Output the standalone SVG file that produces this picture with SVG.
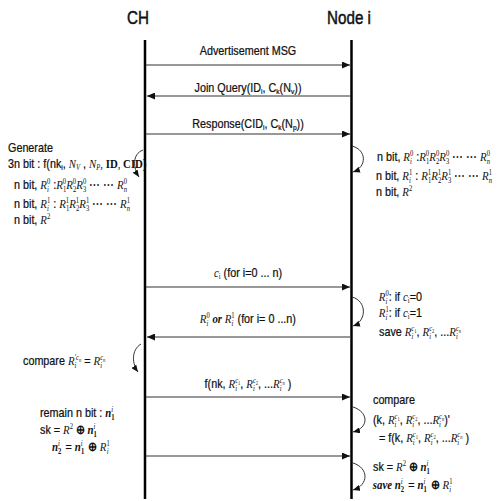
<svg xmlns="http://www.w3.org/2000/svg" width="498" height="501" viewBox="0 0 498 501">
<style>
text{font-family:"Liberation Sans",Arial,sans-serif;font-size:13px;fill:#111;stroke:#111;stroke-width:.25}
.l{transform-box:fill-box;transform-origin:0 50%;transform:scaleX(.83)}
.c{text-anchor:middle;transform-box:fill-box;transform-origin:50% 50%;transform:scaleX(.83)}
.h{font-size:19px;stroke-width:.5;text-anchor:middle;transform-box:fill-box;transform-origin:50% 50%;transform:scaleX(.8)}
.m{font-family:"Liberation Serif","Times New Roman",serif;font-style:italic;stroke-width:0}
.r{font-family:"Liberation Serif","Times New Roman",serif;stroke-width:0}
.b{font-family:"Liberation Serif","Times New Roman",serif;font-weight:bold;stroke-width:0}
.nb{font-family:"Liberation Serif","Times New Roman",serif;font-style:italic;font-weight:bold;stroke-width:0}
.sp{font-size:8px}
.ss{font-size:5.5px}
.life{stroke:#000;stroke-width:2.5}
.msg{stroke:#333;stroke-width:1.2;fill:none}
.loop{stroke:#333;stroke-width:1;fill:none}
</style>
<defs>
<marker id="ah" markerWidth="8" markerHeight="7" refX="8" refY="3.5" orient="auto" markerUnits="userSpaceOnUse"><path d="M0,0 L8,3.5 L0,7 Z" fill="#111"/></marker>
<marker id="lh" markerWidth="7" markerHeight="6" refX="7" refY="3" orient="auto" markerUnits="userSpaceOnUse"><path d="M0,0 L7,3 L0,6 Z" fill="#111"/></marker>
</defs>
<rect width="498" height="501" fill="#fff"/>

<g id="CH">
<text class="h" x="138" y="24">CH</text>
<line class="life" x1="145" y1="40" x2="145" y2="499"/>
</g>
<g id="Node_i">
<text class="h" x="349" y="24">Node i</text>
<line class="life" x1="351.5" y1="40" x2="351.5" y2="499"/>
</g>

<g id="connectors">
<line class="msg" x1="146" y1="65" x2="350" y2="65" marker-end="url(#ah)"/>
<line class="msg" x1="350" y1="96" x2="147" y2="96" marker-end="url(#ah)"/>
<line class="msg" x1="146" y1="134" x2="350" y2="134" marker-end="url(#ah)"/>
<line class="msg" x1="146" y1="287" x2="350" y2="287" marker-end="url(#ah)"/>
<line class="msg" x1="350" y1="337" x2="147" y2="337" marker-end="url(#ah)"/>
<line class="msg" x1="146" y1="397" x2="350" y2="397" marker-end="url(#ah)"/>
<line class="msg" x1="146" y1="456" x2="350" y2="456" marker-end="url(#ah)"/>
<path class="loop" d="M352,146 C367,150 367,167 353,172" marker-end="url(#lh)"/>
<path class="loop" d="M352,297 C367,301 367,321 353,326" marker-end="url(#lh)"/>
<path class="loop" d="M353,407 C369,412 369,428 353,432" marker-end="url(#lh)"/>
<path class="loop" d="M353,463 C369,468 369,485 353,490" marker-end="url(#lh)"/>
<path class="loop" d="M143,150 C132,154 133,168 139,177" marker-end="url(#lh)"/>
<path class="loop" d="M141,344 C131,350 132,364 138,372" marker-end="url(#lh)"/>
</g>

<g id="msg-labels">
<text class="c" x="248" y="55">Advertisement  MSG</text>
<text class="c" x="248" y="92">Join Query(ID<tspan class="sp" dy="2">i</tspan><tspan dy="-2">,  C</tspan><tspan class="sp" dy="2">k</tspan><tspan dy="-2">(N</tspan><tspan class="sp" dy="2">v</tspan><tspan dy="-2">))</tspan></text>
<text class="c" x="248" y="128">Response(CID<tspan class="sp" dy="2">i</tspan><tspan dy="-2">,  C</tspan><tspan class="sp" dy="2">k</tspan><tspan dy="-2">(N</tspan><tspan class="sp" dy="2">p</tspan><tspan dy="-2">))</tspan></text>
<text class="c" x="248" y="277"><tspan class="m">c</tspan><tspan class="sp r" dy="2">i</tspan><tspan dy="-2"> (for i=0 ... n)</tspan></text>
<text class="c" x="248" y="323"><tspan class="m">R</tspan><tspan class="sp r" dy="-4.5">0</tspan><tspan class="sp m" dx="-3.8" dy="7.5">i</tspan><tspan class="nb" dy="-3" dx="1.5"> or </tspan><tspan class="m">R</tspan><tspan class="sp r" dy="-4.5">1</tspan><tspan class="sp m" dx="-3.8" dy="7.5">i</tspan><tspan dy="-3" dx="1.5"> (for i= 0 ...n)</tspan></text>
<text class="c" x="248" y="388">f(nk, <tspan class="m">R</tspan><tspan class="sp m" dy="-4.5">c</tspan><tspan class="ss r" dy="1.5">1</tspan><tspan class="sp m" dx="-6.3" dy="6">i</tspan><tspan dy="-3" dx="4">, </tspan><tspan class="m">R</tspan><tspan class="sp m" dy="-4.5">c</tspan><tspan class="ss r" dy="1.5">2</tspan><tspan class="sp m" dx="-6.3" dy="6">i</tspan><tspan dy="-3" dx="4">, ...</tspan><tspan class="m">R</tspan><tspan class="sp m" dy="-4.5">c</tspan><tspan class="ss m" dy="1.5">n</tspan><tspan class="sp m" dx="-6.3" dy="6">i</tspan><tspan dy="-3" dx="4"> )</tspan></text>
</g>

<g id="ch-generate">
<text class="l" x="8" y="152">Generate</text>
<text class="l" x="8" y="168">3n bit : f(nk<tspan class="sp" dy="2">i</tspan><tspan dy="-2">, </tspan><tspan class="m">N</tspan><tspan class="sp m" dy="2">V</tspan><tspan dy="-2"> , </tspan><tspan class="m">N</tspan><tspan class="sp m" dy="2">P</tspan><tspan class="m" dy="-2">, </tspan><tspan class="b">ID</tspan><tspan class="m">, </tspan><tspan class="b">CID</tspan>)</text>
<text class="l" x="14" y="189">n bit, <tspan class="m">R</tspan><tspan class="sp r" dy="-4.5">0</tspan><tspan class="sp m" dx="-3.8" dy="7.5">i</tspan><tspan dy="-3" dx="1.5"> :</tspan><tspan class="m">R</tspan><tspan class="sp r" dy="-4.5">0</tspan><tspan class="sp r" dx="-3.8" dy="7.5">1</tspan><tspan class="m" dy="-3">R</tspan><tspan class="sp r" dy="-4.5">0</tspan><tspan class="sp r" dx="-3.8" dy="7.5">2</tspan><tspan class="m" dy="-3">R</tspan><tspan class="sp r" dy="-4.5">0</tspan><tspan class="sp r" dx="-3.8" dy="7.5">3</tspan><tspan dy="-3"> ⋯ ⋯ </tspan><tspan class="m">R</tspan><tspan class="sp r" dy="-4.5">0</tspan><tspan class="sp m" dx="-3.8" dy="7.5">n</tspan></text>
<text class="l" x="14" y="208">n bit,  <tspan class="m">R</tspan><tspan class="sp r" dy="-4.5">1</tspan><tspan class="sp m" dx="-3.8" dy="7.5">i</tspan><tspan dy="-3" dx="1.5"> : </tspan><tspan class="m">R</tspan><tspan class="sp r" dy="-4.5">1</tspan><tspan class="sp r" dx="-3.8" dy="7.5">1</tspan><tspan class="m" dy="-3">R</tspan><tspan class="sp r" dy="-4.5">1</tspan><tspan class="sp r" dx="-3.8" dy="7.5">2</tspan><tspan class="m" dy="-3">R</tspan><tspan class="sp r" dy="-4.5">1</tspan><tspan class="sp r" dx="-3.8" dy="7.5">3</tspan><tspan dy="-3"> ⋯ ⋯ </tspan><tspan class="m">R</tspan><tspan class="sp r" dy="-4.5">1</tspan><tspan class="sp m" dx="-3.8" dy="7.5">n</tspan></text>
<text class="l" x="14" y="224">n bit, <tspan class="m">R</tspan><tspan class="sp r" dy="-4.5">2</tspan></text>
</g>

<g id="node-generate">
<text class="l" x="377" y="161">n bit, <tspan class="m">R</tspan><tspan class="sp r" dy="-4.5">0</tspan><tspan class="sp m" dx="-3.8" dy="7.5">i</tspan><tspan dy="-3" dx="1.5"> :</tspan><tspan class="m">R</tspan><tspan class="sp r" dy="-4.5">0</tspan><tspan class="sp r" dx="-3.8" dy="7.5">1</tspan><tspan class="m" dy="-3">R</tspan><tspan class="sp r" dy="-4.5">0</tspan><tspan class="sp r" dx="-3.8" dy="7.5">2</tspan><tspan class="m" dy="-3">R</tspan><tspan class="sp r" dy="-4.5">0</tspan><tspan class="sp r" dx="-3.8" dy="7.5">3</tspan><tspan dy="-3"> ⋯ ⋯ </tspan><tspan class="m">R</tspan><tspan class="sp r" dy="-4.5">0</tspan><tspan class="sp m" dx="-3.8" dy="7.5">n</tspan></text>
<text class="l" x="376" y="180">n bit,  <tspan class="m">R</tspan><tspan class="sp r" dy="-4.5">1</tspan><tspan class="sp m" dx="-3.8" dy="7.5">i</tspan><tspan dy="-3" dx="1.5"> : </tspan><tspan class="m">R</tspan><tspan class="sp r" dy="-4.5">1</tspan><tspan class="sp r" dx="-3.8" dy="7.5">1</tspan><tspan class="m" dy="-3">R</tspan><tspan class="sp r" dy="-4.5">1</tspan><tspan class="sp r" dx="-3.8" dy="7.5">2</tspan><tspan class="m" dy="-3">R</tspan><tspan class="sp r" dy="-4.5">1</tspan><tspan class="sp r" dx="-3.8" dy="7.5">3</tspan><tspan dy="-3"> ⋯ ⋯ </tspan><tspan class="m">R</tspan><tspan class="sp r" dy="-4.5">1</tspan><tspan class="sp m" dx="-3.8" dy="7.5">n</tspan></text>
<text class="l" x="376" y="196">n bit, <tspan class="m">R</tspan><tspan class="sp r" dy="-4.5">2</tspan></text>
</g>

<g id="node-select">
<text class="l" x="379" y="301"><tspan class="m">R</tspan><tspan class="sp r" dy="-4.5">0</tspan><tspan class="sp m" dx="-3.8" dy="7.5">i</tspan><tspan dy="-3" dx="1.5">: if </tspan><tspan class="m">c</tspan><tspan class="sp r" dy="2">i</tspan><tspan dy="-2">=0</tspan></text>
<text class="l" x="379" y="317"><tspan class="m">R</tspan><tspan class="sp r" dy="-4.5">1</tspan><tspan class="sp m" dx="-3.8" dy="7.5">i</tspan><tspan dy="-3" dx="1.5">: if </tspan><tspan class="m">c</tspan><tspan class="sp r" dy="2">i</tspan><tspan dy="-2">=1</tspan></text>
<text class="l" x="379" y="336">save <tspan class="m">R</tspan><tspan class="sp m" dy="-4.5">c</tspan><tspan class="ss r" dy="1.5">1</tspan><tspan class="sp m" dx="-6.3" dy="6">i</tspan><tspan dy="-3" dx="4">, </tspan><tspan class="m">R</tspan><tspan class="sp m" dy="-4.5">c</tspan><tspan class="ss r" dy="1.5">2</tspan><tspan class="sp m" dx="-6.3" dy="6">i</tspan><tspan dy="-3" dx="4">, ...</tspan><tspan class="m">R</tspan><tspan class="sp m" dy="-4.5">c</tspan><tspan class="ss m" dy="1.5">n</tspan><tspan class="sp m" dx="-6.3" dy="6">i</tspan></text>
</g>

<g id="ch-compare">
<text class="l" x="23" y="365">compare <tspan class="m">R</tspan><tspan class="sp m" dy="-4.5">′c</tspan><tspan class="ss m" dy="1.5">n</tspan><tspan class="sp m" dx="-8" dy="6">i</tspan><tspan dy="-3" dx="5.8"> =  </tspan><tspan class="m">R</tspan><tspan class="sp m" dy="-4.5">c</tspan><tspan class="ss m" dy="1.5">n</tspan><tspan class="sp m" dx="-6.3" dy="6">i</tspan></text>
</g>

<g id="node-compare">
<text class="l" x="373" y="404">compare</text>
<text class="l" x="373" y="424">(k, <tspan class="m">R</tspan><tspan class="sp m" dy="-4.5">c</tspan><tspan class="ss r" dy="1.5">1</tspan><tspan class="sp m" dx="-6.3" dy="6">i</tspan><tspan dy="-3" dx="4">, </tspan><tspan class="m">R</tspan><tspan class="sp m" dy="-4.5">c</tspan><tspan class="ss r" dy="1.5">2</tspan><tspan class="sp m" dx="-6.3" dy="6">i</tspan><tspan dy="-3" dx="4">, ...</tspan><tspan class="m">R</tspan><tspan class="sp m" dy="-4.5">c</tspan><tspan class="ss m" dy="1.5">n</tspan><tspan class="sp m" dx="-6.3" dy="6">i</tspan><tspan dy="-3" dx="4">)'</tspan></text>
<text class="l" x="379" y="442">= f(k, <tspan class="m">R</tspan><tspan class="sp m" dy="-4.5">c</tspan><tspan class="ss r" dy="1.5">1</tspan><tspan class="sp m" dx="-6.3" dy="6">i</tspan><tspan dy="-3" dx="4">, </tspan><tspan class="m">R</tspan><tspan class="sp m" dy="-4.5">c</tspan><tspan class="ss r" dy="1.5">2</tspan><tspan class="sp m" dx="-6.3" dy="6">i</tspan><tspan dy="-3" dx="4">, ...</tspan><tspan class="m">R</tspan><tspan class="sp m" dy="-4.5">c</tspan><tspan class="ss m" dy="1.5">n</tspan><tspan class="sp m" dx="-6.3" dy="6">i</tspan><tspan dy="-3" dx="4"> )</tspan></text>
</g>

<g id="ch-key">
<text class="l" x="40" y="417">remain n bit : <tspan class="nb">n</tspan><tspan class="sp m" dy="-4.5">i</tspan><tspan class="sp b" dx="-2.2" dy="7.5">1</tspan></text>
<text class="l" x="40" y="434">sk = <tspan class="m">R</tspan><tspan class="sp r" dy="-4.5">2</tspan><tspan class="b" dy="4.5"> ⊕ </tspan><tspan class="nb">n</tspan><tspan class="sp m" dy="-4.5">i</tspan><tspan class="sp b" dx="-2.2" dy="7.5">1</tspan></text>
<text class="l" x="52" y="451"><tspan class="nb">n</tspan><tspan class="sp m" dy="-4.5">i</tspan><tspan class="sp b" dx="-2.2" dy="7.5">2</tspan><tspan dy="-3" dx="1.5"> = </tspan><tspan class="nb">n</tspan><tspan class="sp m" dy="-4.5">i</tspan><tspan class="sp b" dx="-2.2" dy="7.5">1</tspan><tspan class="b" dy="-3" dx="1.5"> ⊕ </tspan><tspan class="m">R</tspan><tspan class="sp r" dy="-4.5">1</tspan><tspan class="sp m" dx="-3.8" dy="7.5">i</tspan></text>
</g>

<g id="node-key">
<text class="l" x="373" y="471">sk = <tspan class="m">R</tspan><tspan class="sp r" dy="-4.5">2</tspan><tspan class="b" dy="4.5"> ⊕ </tspan><tspan class="nb">n</tspan><tspan class="sp m" dy="-4.5">i</tspan><tspan class="sp b" dx="-2.2" dy="7.5">1</tspan></text>
<text class="l" x="373" y="489"><tspan class="nb">save </tspan><tspan class="nb">n</tspan><tspan class="sp m" dy="-4.5">i</tspan><tspan class="sp b" dx="-2.2" dy="7.5">2</tspan><tspan dy="-3" dx="1.5"> = </tspan><tspan class="nb">n</tspan><tspan class="sp m" dy="-4.5">i</tspan><tspan class="sp b" dx="-2.2" dy="7.5">1</tspan><tspan class="b" dy="-3" dx="1.5"> ⊕ </tspan><tspan class="m">R</tspan><tspan class="sp r" dy="-4.5">1</tspan><tspan class="sp m" dx="-3.8" dy="7.5">i</tspan></text>
</g>
</svg>
